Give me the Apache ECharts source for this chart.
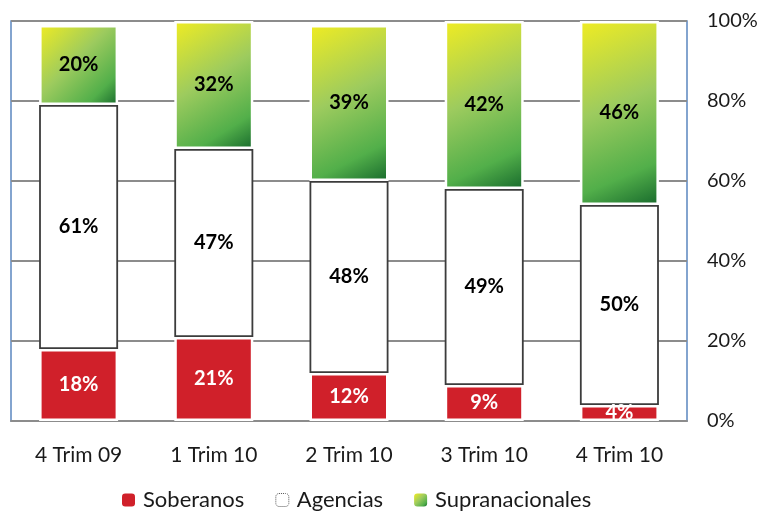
<!DOCTYPE html>
<html>
<head>
<meta charset="utf-8">
<script src="https://cdn.jsdelivr.net/npm/echarts@6/dist/echarts.min.js"></script>
<style>
  html, body { margin: 0; padding: 0; background: #fff; }
  #chart { width: 765px; height: 516px; }
</style>
</head>
<body>
<div id="chart"></div>
<script>
// Quarters on the x axis
const categories = ['4 Trim 09', '1 Trim 10', '2 Trim 10', '3 Trim 10', '4 Trim 10'];
// Share of each issuer type (%)
const soberanos = [18, 21, 12, 9, 4];
const agencias = [61, 47, 48, 49, 50];
const supranacionales = [20, 32, 39, 42, 46];
// Percentage scale on the right axis
const yTicks = [0, 20, 40, 60, 80, 100];

const FONT = 'Lato';

const greenFill = new echarts.graphic.LinearGradient(0, 0, 1, 1, [
  { offset: 0, color: '#F0EC22' },
  { offset: 0.45, color: '#9DCB5E' },
  { offset: 0.8, color: '#52AF4A' },
  { offset: 1, color: '#17692C' }
]);

const labelStyle = (color) => ({
  show: true,
  position: 'inside',
  formatter: (p) => p.value + '%',
  fontFamily: FONT,
  fontWeight: 'bold',
  fontSize: 20,
  color: color
});

const chart = echarts.init(document.getElementById('chart'), null, { renderer: 'canvas' });

chart.setOption({
  animation: false,
  backgroundColor: '#ffffff',
  grid: {
    left: 11, right: 78, top: 21, bottom: 95,
    show: true,
    borderColor: '#5B87C0',
    borderWidth: 1.5,
    backgroundColor: 'transparent'
  },
  legend: {
    bottom: 0,
    left: 117,
    itemWidth: 13,
    itemHeight: 13,
    itemGap: 31,
    textStyle: { fontFamily: FONT, fontSize: 22, color: '#1a1a1a', padding: [0, 0, 0, 3] },
    data: [
      { name: 'Soberanos', itemStyle: { color: '#D0202A', borderWidth: 0 } },
      { name: 'Agencias', itemStyle: { color: '#ffffff', borderColor: '#555', borderWidth: 1, borderType: 'dotted' } },
      { name: 'Supranacionales', itemStyle: { borderWidth: 0 } }
    ]
  },
  xAxis: {
    type: 'category',
    data: categories,
    axisLine: { show: true, lineStyle: { color: '#8C8C8C', width: 2 } },
    axisTick: { show: false },
    axisLabel: { fontFamily: FONT, fontSize: 21, color: '#1a1a1a', margin: 24 }
  },
  yAxis: {
    type: 'value',
    position: 'right',
    min: yTicks[0],
    max: yTicks[yTicks.length - 1],
    interval: 20,
    axisLine: { show: false },
    axisTick: { show: false },
    splitLine: { show: true, lineStyle: { color: '#8C8C8C', width: 2 } },
    axisLabel: {
      fontFamily: FONT, fontSize: 20, color: '#1a1a1a', margin: 20,
      formatter: (v) => v + '%'
    }
  },
  series: [
    {
      name: 'Soberanos',
      type: 'bar',
      stack: 'total',
      barWidth: 79,
      z: 3,
      data: soberanos,
      itemStyle: { color: '#D0202A', borderColor: '#ffffff', borderWidth: 2.5 },
      label: labelStyle('#ffffff')
    },
    {
      name: 'Agencias',
      type: 'bar',
      stack: 'total',
      barWidth: 79,
      z: 2,
      data: agencias,
      itemStyle: { color: '#ffffff', borderColor: '#3C3C3C', borderWidth: 1.8 },
      label: labelStyle('#000000')
    },
    {
      name: 'Supranacionales',
      type: 'bar',
      stack: 'total',
      barWidth: 79,
      z: 3,
      data: supranacionales,
      itemStyle: { color: greenFill, borderColor: '#ffffff', borderWidth: 2.5 },
      label: labelStyle('#000000')
    }
  ]
});
</script>
</body>
</html>
